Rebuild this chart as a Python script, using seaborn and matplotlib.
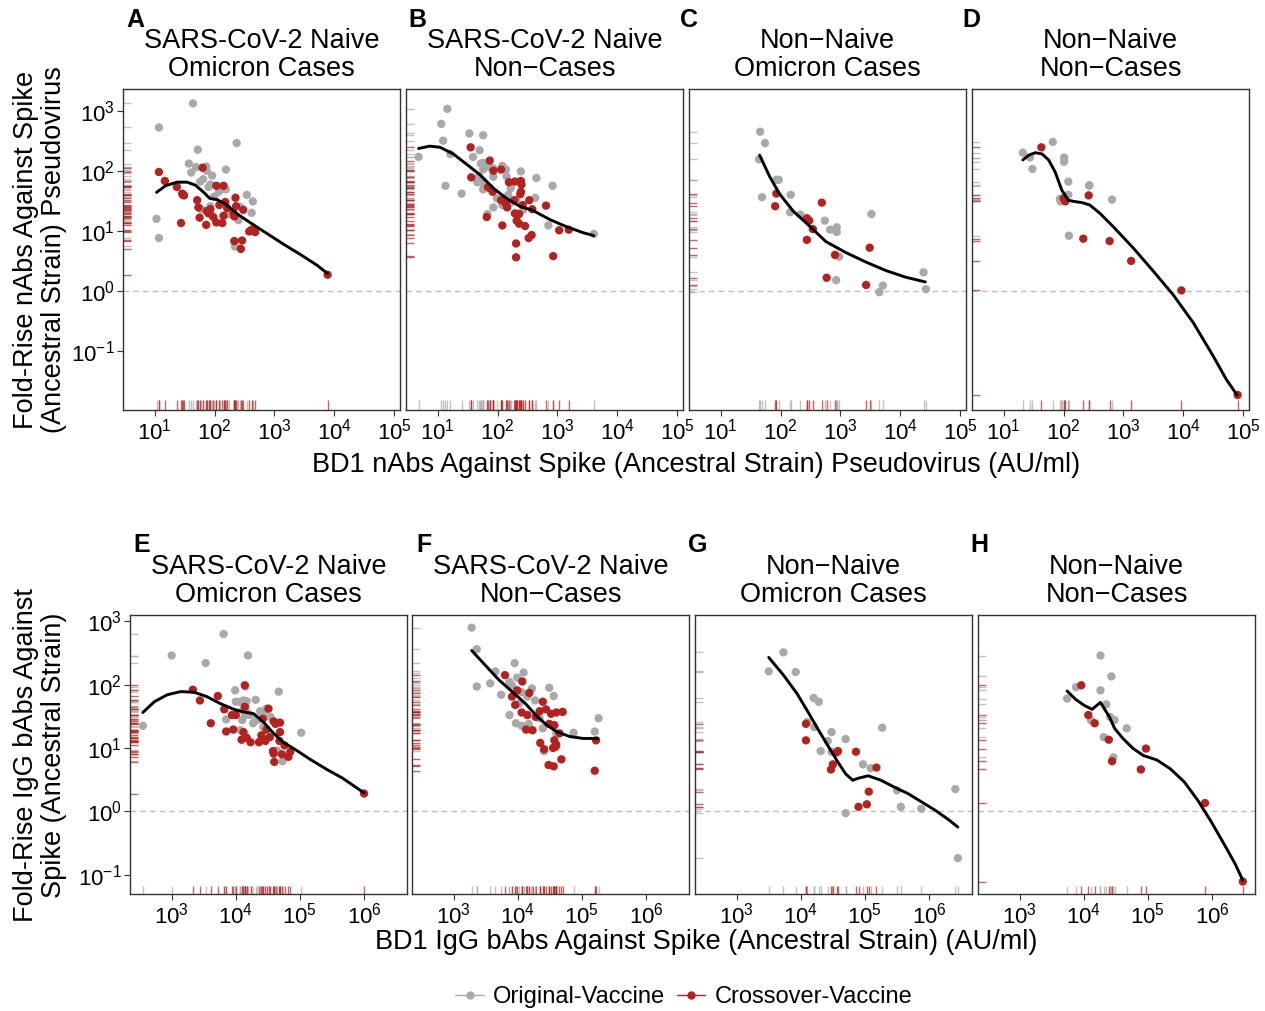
import numpy as np
import pandas as pd
import matplotlib
matplotlib.use("Agg")
import matplotlib.pyplot as plt
import seaborn as sns
from matplotlib.ticker import FixedLocator, LogFormatterSciNotation, NullLocator
from matplotlib.lines import Line2D

# ---------------- data (log10 values) ----------------
A_orig_x = [1.64,1.07,1.72,2.37,1.57,1.61,1.69,1.86,1.87,1.96,2.19,1.76,1.81,1.93,1.90,2.07,2.09,2.19,1.99,2.54,2.64,1.93,1.78,2.43,2.62,2.40,2.21,2.25,1.03,1.07,2.34,1.93]
A_orig_y = [3.12,2.72,2.35,2.46,2.12,1.97,2.06,2.07,2.00,1.92,2.02,1.82,1.86,1.77,1.73,1.65,1.68,1.69,1.57,1.60,1.49,1.41,1.36,1.40,1.30,1.18,1.28,1.28,1.20,0.88,0.74,1.30]
A_cross_x = [1.07,1.17,1.80,1.37,1.46,1.47,1.49,1.71,1.73,2.03,2.15,2.08,2.18,2.35,2.36,2.21,1.87,1.90,1.98,1.75,2.03,2.13,1.86,1.44,2.15,2.32,2.33,2.48,2.58,2.62,2.68,2.33,2.46,2.44,3.89,1.93]
A_cross_y = [1.98,1.83,2.05,1.73,1.62,1.60,1.59,1.51,1.39,1.75,1.75,1.43,1.48,1.55,1.41,1.38,1.33,1.29,1.23,1.22,1.14,1.13,1.10,1.13,1.25,1.29,1.24,1.35,0.99,1.02,0.98,0.83,0.84,0.70,0.27,1.36]
A_fit_x = [1.03,1.18,1.37,1.54,1.68,1.82,1.92,2.04,2.18,2.37,2.59,2.87,3.15,3.43,3.71,3.89]
A_fit_y = [1.64,1.75,1.81,1.81,1.76,1.64,1.54,1.52,1.45,1.29,1.14,0.96,0.78,0.61,0.43,0.29]

B_orig_x = [1.16,1.06,1.09,1.53,1.76,1.70,1.21,0.68,1.59,1.72,1.76,1.87,2.08,2.14,1.93,1.69,1.93,2.15,2.39,2.65,2.92,1.13,1.66,1.73,1.76,1.40,2.22,1.99,2.18,2.08,1.93,1.83,2.63,2.43,2.31,2.85,3.61,2.21,1.76]
B_orig_y = [3.03,2.78,2.50,2.62,2.59,2.34,2.28,2.23,2.23,2.12,2.13,2.06,2.08,2.02,2.04,1.91,1.90,1.91,1.99,1.88,1.75,1.75,1.81,1.81,1.69,1.62,1.71,1.54,1.60,1.43,1.39,1.28,1.55,1.35,1.51,1.09,0.95,1.46,2.02]
B_cross_x = [1.55,1.87,1.93,2.06,1.56,2.19,2.29,2.39,2.40,2.39,2.38,1.84,1.87,1.92,2.06,2.14,2.16,2.28,2.53,2.42,2.58,2.81,2.29,2.32,2.36,2.32,2.36,2.46,2.08,1.82,2.57,2.52,3.03,3.19,2.31,2.31,2.93]
B_cross_y = [2.39,2.17,2.00,2.02,1.89,1.81,1.82,1.83,1.77,1.65,1.61,1.73,1.71,1.65,1.51,1.45,1.39,1.51,1.51,1.43,1.36,1.42,1.29,1.28,1.28,1.17,1.12,1.08,1.09,1.23,0.93,0.88,1.01,1.02,0.79,0.56,0.58]
B_fit_x = [0.68,0.87,1.04,1.26,1.48,1.71,1.93,2.15,2.37,2.59,2.87,3.15,3.43,3.61]
B_fit_y = [2.37,2.41,2.39,2.28,2.11,1.93,1.71,1.54,1.41,1.34,1.19,1.07,0.97,0.92]

C_orig_x = [1.66,1.74,1.64,1.93,1.97,1.69,2.17,2.16,2.33,2.74,2.83,2.94,2.94,3.52,2.98,2.93,4.39,3.71,3.65,4.43]
C_orig_y = [2.65,2.46,2.19,1.85,1.85,1.56,1.60,1.31,1.27,1.17,1.02,1.06,0.98,1.28,0.57,0.18,0.31,0.09,-0.02,0.03]
C_cross_x = [1.93,1.91,2.69,2.44,2.48,2.54,2.44,2.91,3.49,2.77,3.43]
C_cross_y = [1.62,1.41,1.47,1.21,1.17,1.03,0.85,0.60,0.72,0.22,0.10]
C_fit_x = [1.65,1.82,1.98,2.21,2.43,2.76,3.09,3.43,3.76,4.09,4.42]
C_fit_y = [2.26,1.90,1.62,1.33,1.13,0.82,0.64,0.48,0.34,0.23,0.15]

D_orig_x = [1.32,1.44,1.48,1.82,2.01,2.01,2.08,2.43,2.43,2.08,1.94,1.95,1.97,2.81,2.09]
D_orig_y = [2.30,2.22,2.03,2.48,2.22,2.15,1.82,1.76,1.75,1.60,1.53,1.49,1.51,1.52,0.92]
D_cross_x = [1.63,2.00,2.03,2.42,2.33,2.77,3.13,3.97,4.91]
D_cross_y = [2.39,1.54,1.49,1.59,0.87,0.83,0.50,0.01,-1.73]
D_fit_x = [1.32,1.42,1.53,1.64,1.75,1.86,1.97,2.08,2.17,2.31,2.44,2.61,2.83,3.17,3.50,3.83,4.17,4.50,4.72,4.90]
D_fit_y = [2.18,2.26,2.30,2.28,2.18,1.98,1.68,1.51,1.49,1.47,1.43,1.29,1.07,0.71,0.33,-0.06,-0.53,-1.08,-1.47,-1.73]

E_orig_x = [2.55,3.00,3.53,3.81,4.19,3.99,4.15,4.67,4.00,4.06,4.12,4.17,4.31,4.15,4.11,4.17,4.23,4.38,4.48,4.43,4.54,3.85,4.10,4.27,4.07,4.43,5.02,4.64,4.73,4.15,4.33]
E_orig_y = [1.35,2.46,2.34,2.80,2.46,1.91,1.97,1.89,1.73,1.73,1.75,1.74,1.76,1.67,1.59,1.57,1.52,1.58,1.62,1.52,1.49,1.45,1.44,1.39,1.28,1.33,1.24,0.96,0.79,1.52,1.44]
E_cross_x = [3.33,3.44,3.72,3.61,3.82,3.85,3.94,4.00,3.96,4.14,4.14,4.12,4.09,4.17,4.23,4.36,4.41,4.46,4.51,4.42,4.48,4.59,4.62,4.69,4.69,4.68,4.58,4.59,4.60,4.72,4.76,4.82,4.85,6.00,4.40,4.53]
E_cross_y = [1.92,1.75,1.82,1.39,1.61,1.26,1.52,1.52,1.29,1.99,1.65,1.25,1.13,1.16,1.09,1.09,1.16,1.11,1.62,1.46,1.29,1.42,1.38,1.40,1.25,1.11,0.95,0.91,0.78,0.90,1.04,0.86,0.94,0.28,1.20,1.17]
E_fit_x = [2.55,2.73,2.93,3.14,3.35,3.55,3.76,3.97,4.12,4.28,4.43,4.59,4.74,4.95,5.16,5.42,5.67,6.00]
E_fit_y = [1.56,1.73,1.84,1.89,1.88,1.81,1.70,1.61,1.57,1.54,1.41,1.23,1.09,0.96,0.82,0.66,0.52,0.29]

F_orig_x = [3.28,3.36,3.36,3.57,3.65,3.74,3.87,3.91,3.95,3.99,4.09,4.06,4.15,4.22,4.27,4.02,3.87,3.97,4.06,4.17,4.20,4.49,4.56,4.39,4.60,4.87,4.41,5.20,5.26,4.34]
F_orig_y = [2.90,2.56,1.97,2.02,2.21,1.84,2.04,1.99,2.34,2.11,2.19,1.88,1.81,1.94,1.75,1.70,1.52,1.39,1.35,1.38,1.29,1.95,1.82,1.31,1.23,1.24,0.95,1.26,1.47,1.47]
F_cross_x = [3.80,4.07,3.99,4.18,3.91,3.96,4.06,4.15,4.28,4.39,4.44,4.52,4.60,4.70,4.34,4.49,4.57,4.23,4.13,4.65,4.35,4.41,4.57,4.60,4.55,4.59,4.68,4.48,4.56,5.22,5.20]
F_cross_y = [2.15,2.05,1.91,1.87,1.81,1.68,1.56,1.52,1.49,1.73,1.61,1.54,1.56,1.57,1.58,1.38,1.36,1.28,1.29,1.23,1.08,0.98,1.12,1.05,1.00,1.02,0.82,0.73,0.71,1.12,0.64]
F_fit_x = [3.28,3.49,3.70,3.91,4.12,4.28,4.44,4.60,4.81,5.02,5.25]
F_fit_y = [2.54,2.31,2.08,1.89,1.70,1.52,1.37,1.26,1.18,1.15,1.15]

G_orig_x = [3.50,3.73,3.92,4.20,4.28,4.10,4.21,4.48,4.42,4.70,4.31,4.48,5.27,4.97,5.09,5.50,5.56,5.88,4.70,6.41,6.45]
G_orig_y = [2.21,2.51,2.20,1.79,1.73,1.41,1.33,1.25,1.11,1.14,0.95,0.94,1.32,0.74,0.68,0.33,0.07,0.04,-0.03,0.35,-0.74]
G_cross_x = [4.08,4.08,4.58,4.56,4.86,4.50,4.47,5.18,5.06,4.90,5.03]
G_cross_y = [1.38,1.12,0.95,0.93,0.94,0.74,0.66,0.69,0.31,0.07,0.11]
G_fit_x = [3.50,3.73,3.94,4.10,4.26,4.42,4.57,4.70,4.81,4.89,5.05,5.25,5.46,5.67,5.88,6.09,6.30,6.45]
G_fit_y = [2.43,2.15,1.86,1.59,1.31,1.04,0.79,0.59,0.49,0.52,0.56,0.49,0.38,0.28,0.15,0.02,-0.13,-0.25]

H_orig_x = [4.26,4.43,3.88,4.26,3.74,4.35,4.41,4.48,4.11,4.31,4.67,4.46]
H_orig_y = [2.46,2.13,1.96,1.91,1.78,1.69,1.49,1.44,1.44,1.17,1.31,0.85]
H_cross_x = [3.96,4.07,4.17,4.39,4.44,4.97,4.89,5.89,6.48]
H_cross_y = [1.99,1.52,1.39,1.13,0.79,0.99,0.66,0.13,-1.11]
H_fit_x = [3.74,3.87,4.01,4.13,4.20,4.26,4.32,4.40,4.48,4.61,4.77,4.93,5.14,5.35,5.57,5.78,5.99,6.20,6.36,6.48]
H_fit_y = [1.90,1.77,1.67,1.61,1.67,1.72,1.62,1.49,1.31,1.15,0.99,0.88,0.81,0.67,0.46,0.17,-0.17,-0.54,-0.83,-1.09]

panel_letters = ["A", "B", "C", "D", "E", "F", "G", "H"]
panel_titles = ["SARS-CoV-2 Naive\nOmicron Cases", "SARS-CoV-2 Naive\nNon\u2212Cases",
                "Non\u2212Naive\nOmicron Cases", "Non\u2212Naive\nNon\u2212Cases"] * 2
groups = ["Original-Vaccine", "Crossover-Vaccine"]
top_xticks = [1, 2, 3, 4, 5]
bottom_xticks = [3, 4, 5, 6]
yticks = [-1, 0, 1, 2, 3]
top_xlabel = "BD1 nAbs Against Spike (Ancestral Strain) Pseudovirus (AU/ml)"
bottom_xlabel = "BD1 IgG bAbs Against Spike (Ancestral Strain) (AU/ml)"
top_ylabel = "Fold-Rise nAbs Against Spike\n(Ancestral Strain) Pseudovirus"
bottom_ylabel = "Fold-Rise IgG bAbs Against\nSpike (Ancestral Strain)"

panel_data = {
    "A": (A_orig_x, A_orig_y, A_cross_x, A_cross_y, A_fit_x, A_fit_y),
    "B": (B_orig_x, B_orig_y, B_cross_x, B_cross_y, B_fit_x, B_fit_y),
    "C": (C_orig_x, C_orig_y, C_cross_x, C_cross_y, C_fit_x, C_fit_y),
    "D": (D_orig_x, D_orig_y, D_cross_x, D_cross_y, D_fit_x, D_fit_y),
    "E": (E_orig_x, E_orig_y, E_cross_x, E_cross_y, E_fit_x, E_fit_y),
    "F": (F_orig_x, F_orig_y, F_cross_x, F_cross_y, F_fit_x, F_fit_y),
    "G": (G_orig_x, G_orig_y, G_cross_x, G_cross_y, G_fit_x, G_fit_y),
    "H": (H_orig_x, H_orig_y, H_cross_x, H_cross_y, H_fit_x, H_fit_y),
}

# ---------------- style ----------------
sns.set_style("white")
plt.rcParams["font.family"] = ["Liberation Sans", "DejaVu Sans"]
plt.rcParams["text.color"] = "black"
GREY = "#A9A9A9"
RED = "#B2221E"
palette = {groups[0]: GREY, groups[1]: RED}
SPINE = "#333333"

FW, FH = 1265, 1011
fig = plt.figure(figsize=(FW / 100, FH / 100), dpi=100)

top_left = [123, 406, 689, 972]
bot_left = [130, 412, 695, 978]
PW = 277
top_y = (89, 410)
bot_y = (615, 894)
top_xlim = (10 ** 0.47, 10 ** 5.10)
top_ylim = (10 ** -1.98, 10 ** 3.36)
bot_xlim = (10 ** 2.35, 10 ** 6.67)
bot_ylim = (10 ** -1.307, 10 ** 3.10)

for i, letter in enumerate(panel_letters):
    row = 0 if i < 4 else 1
    col = i % 4
    xl = (top_left if row == 0 else bot_left)[col]
    yt, yb = top_y if row == 0 else bot_y
    ax = fig.add_axes([xl / FW, (FH - yb) / FH, PW / FW, (yb - yt) / FH])
    ox, oy, cx, cy, fx, fy = panel_data[letter]
    df = pd.DataFrame({
        "x": 10 ** np.array(ox + cx, dtype=float),
        "y": 10 ** np.array(oy + cy, dtype=float),
        "Vaccine": [groups[0]] * len(ox) + [groups[1]] * len(cx),
    })
    ax.axhline(1, color="#BDBDBD", ls=(0, (4, 3)), lw=1, zorder=1)
    sns.rugplot(data=df, x="x", y="y", hue="Vaccine", palette=palette, height=0.03,
                lw=1, alpha=0.7, legend=False, ax=ax)
    sns.scatterplot(data=df, x="x", y="y", hue="Vaccine", palette=palette, s=36,
                    linewidth=0, legend=False, ax=ax, zorder=3)
    sns.lineplot(x=10 ** np.array(fx), y=10 ** np.array(fy), color="black", lw=2.1,
                 sort=False, estimator=None, ax=ax, zorder=4)
    ax.set_xscale("log")
    ax.set_yscale("log")
    if row == 0:
        ax.set_xlim(*top_xlim); ax.set_ylim(*top_ylim)
        ax.xaxis.set_major_locator(FixedLocator([10.0 ** k for k in top_xticks]))
    else:
        ax.set_xlim(*bot_xlim); ax.set_ylim(*bot_ylim)
        ax.xaxis.set_major_locator(FixedLocator([10.0 ** k for k in bottom_xticks]))
    ax.yaxis.set_major_locator(FixedLocator([10.0 ** k for k in yticks]))
    ax.xaxis.set_major_formatter(LogFormatterSciNotation())
    ax.yaxis.set_major_formatter(LogFormatterSciNotation())
    ax.xaxis.set_minor_locator(NullLocator())
    ax.yaxis.set_minor_locator(NullLocator())
    ax.set_xlabel(""); ax.set_ylabel("")
    ax.tick_params(axis="both", direction="out", length=4, width=0.8, color=SPINE,
                   labelsize=16, labelcolor="black", pad=2,
                   bottom=True, left=(col == 0), labelleft=(col == 0))
    for sp in ax.spines.values():
        sp.set_color(SPINE); sp.set_linewidth(1.0)
    cxp = xl + PW / 2
    tcy = 55 if row == 0 else 581
    fig.text(cxp / FW, (FH - tcy) / FH, panel_titles[i], ha="center", va="center",
             fontsize=19.5, linespacing=1.1)
    lx = [126, 408, 680, 962][col] if row == 0 else [133, 416, 688, 970][col]
    ly = 20 if row == 0 else 545
    fig.text(lx / FW, (FH - ly) / FH, letter, ha="left", va="center", fontsize=18,
             fontweight="bold")

fig.text(40 / FW, (FH - 250) / FH, top_ylabel, rotation=90, ha="center", va="center",
         fontsize=19.5, linespacing=1.1, multialignment="center")
fig.text(40 / FW, (FH - 755) / FH, bottom_ylabel, rotation=90, ha="center", va="center",
         fontsize=19.5, linespacing=1.1, multialignment="center")
fig.text(696 / FW, (FH - 465) / FH, top_xlabel, ha="center", va="center", fontsize=19.5)
fig.text(706 / FW, (FH - 942) / FH, bottom_xlabel, ha="center", va="center", fontsize=19.5)

handles = [Line2D([0], [0], color=GREY, marker="o", markersize=5, lw=1),
           Line2D([0], [0], color=RED, marker="o", markersize=5, lw=1)]
fig.legend(handles, groups, loc="center", bbox_to_anchor=(684 / FW, (FH - 997) / FH),
           ncol=2, frameon=False, fontsize=17, handlelength=1.2, columnspacing=0.5,
           handletextpad=0.4)

fig.savefig("out.png", dpi=100)
